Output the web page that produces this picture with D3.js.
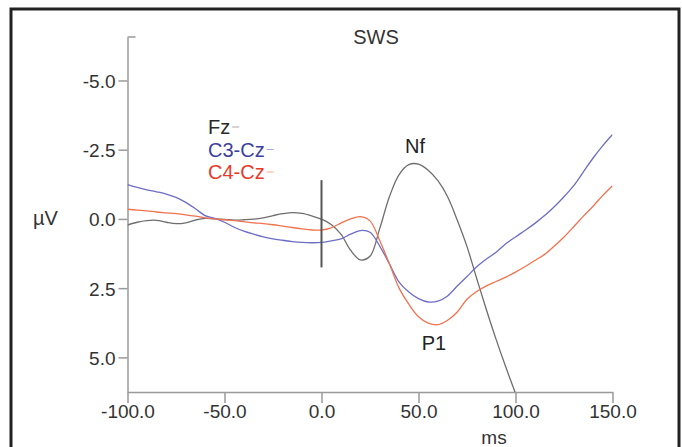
<!DOCTYPE html>
<html lang="en">
<head>
<meta charset="utf-8">
<script src="https://d3js.org/d3.v7.min.js"></script>
<style>
  body { margin: 0; background: #fff; }
  text { font-family: "Liberation Sans", Arial, sans-serif; }
</style>
</head>
<body>
<div id="chart"></div>
<script>
// time base (ms) shared by the three traces
const times = [-100,-95,-90,-85,-80,-75,-70,-65,-60,-55,-50,-45,-40,-35,-30,-25,-20,-15,-10,-5,
  0,5,10,15,20,25,30,35,40,45,50,55,60,65,70,75,80,85,90,95,100,105,110,115,120,125,130,135,140,145,150];

// µV values (negative up)
const fz = [0.22,0.12,0.06,0.05,0.12,0.17,0.14,0.04,-0.02,0.0,0.02,0.04,0.03,0.01,-0.04,-0.12,-0.19,-0.23,-0.2,-0.11,
  0.01,0.2,0.55,1.13,1.48,1.35,0.35,-0.8,-1.6,-1.96,-1.98,-1.76,-1.38,-0.8,0.05,1.0,2.15,3.28,4.35,5.35,6.3];
const c3cz = [-1.24,-1.14,-1.05,-0.98,-0.9,-0.78,-0.6,-0.37,-0.12,-0.02,0.12,0.3,0.44,0.55,0.65,0.72,0.77,0.82,0.85,0.86,
  0.85,0.79,0.72,0.55,0.42,0.48,0.98,1.62,2.28,2.64,2.88,3.0,2.97,2.78,2.42,2.08,1.73,1.45,1.2,0.9,0.65,0.41,0.16,-0.12,-0.44,-0.8,-1.2,-1.7,-2.2,-2.65,-3.05];
const c4cz = [-0.35,-0.32,-0.29,-0.25,-0.22,-0.19,-0.15,-0.1,-0.04,0.0,0.03,0.06,0.1,0.14,0.17,0.21,0.26,0.31,0.36,0.4,
  0.4,0.32,0.15,0.0,-0.08,0.07,0.78,1.62,2.5,3.08,3.53,3.76,3.82,3.66,3.36,2.9,2.62,2.42,2.26,2.1,1.92,1.72,1.5,1.28,0.98,0.65,0.28,-0.1,-0.46,-0.85,-1.2];

const seriesNames = ["Fz", "C3-Cz", "C4-Cz"];
const lineColors = ["#6e6e6e", "#6d6dc6", "#f0734f"];
const textColors = ["#2a2a2a", "#3c3f9e", "#e8392a"];

const xTicks = [-100, -50, 0, 50, 100, 150];
const yTicks = [-5, -2.5, 0, 2.5, 5];

const W = 682, H = 447;
const svg = d3.select("#chart").append("svg")
    .attr("width", W).attr("height", H);

// frame
svg.append("rect")
    .attr("x", 11).attr("y", 9).attr("width", 668).attr("height", 470)
    .attr("fill", "#fff").attr("stroke", "#222").attr("stroke-width", 3);

const x = d3.scaleLinear().domain([-100, 150]).range([127.5, 612.5]);
const y = d3.scaleLinear().domain([-6.57, 6.25]).range([37, 392]);
const fmt = d => d.toFixed(1);   // plain hyphen, not unicode minus

// x axis
const xAxis = svg.append("g")
    .attr("transform", `translate(0,${y(6.25)})`)
    .call(d3.axisBottom(x).tickValues(xTicks).tickFormat(fmt)
        .tickSize(11).tickSizeOuter(0).tickPadding(2));
// y axis
const yAxis = svg.append("g")
    .attr("transform", `translate(${x(-100)},0)`)
    .call(d3.axisLeft(y).tickValues(yTicks).tickFormat(fmt)
        .tickSize(9).tickSizeOuter(0).tickPadding(3));

[xAxis, yAxis].forEach(g => {
  g.selectAll("path, line").attr("stroke", "#9a9a9a").attr("stroke-width", 1.5);
  g.selectAll("text").attr("fill", "#333").style("font-size", "19px");
});
yAxis.selectAll("text").attr("dy", "0.36em");
// small inward stub at top of y axis
svg.append("line")
    .attr("x1", x(-100)).attr("x2", x(-100) + 8)
    .attr("y1", y(-6.57)).attr("y2", y(-6.57))
    .attr("stroke", "#9a9a9a").attr("stroke-width", 1.5);

// clip to plot area
svg.append("clipPath").attr("id", "plot")
  .append("rect").attr("x", x(-100)).attr("y", y(-6.57))
  .attr("width", x(150) - x(-100)).attr("height", y(6.25) - y(-6.57));

const line = d3.line()
    .x(d => x(d[0])).y(d => y(d[1]))
    .curve(d3.curveCatmullRom);

const allSeries = [fz, c3cz, c4cz];
const plot = svg.append("g").attr("clip-path", "url(#plot)");
allSeries.forEach((vals, i) => {
  plot.append("path")
      .datum(vals.map((v, k) => [times[k], v]))
      .attr("fill", "none")
      .attr("stroke", lineColors[i])
      .attr("stroke-width", 1.3)
      .attr("d", line);
});

// stimulus marker
svg.append("line")
    .attr("x1", x(0)).attr("x2", x(0))
    .attr("y1", y(-1.4)).attr("y2", y(1.75))
    .attr("stroke", "#555").attr("stroke-width", 2);

// title and axis labels
svg.append("text").attr("x", 376).attr("y", 44)
    .attr("text-anchor", "middle").attr("fill", "#333")
    .style("font-size", "20px").text("SWS");
svg.append("text").attr("x", 33).attr("y", 225)
    .attr("fill", "#333").style("font-size", "20px").text("µV");
svg.append("text").attr("x", 494).attr("y", 444)
    .attr("text-anchor", "middle").attr("fill", "#333")
    .style("font-size", "19px").text("ms");

// legend
seriesNames.forEach((name, i) => {
  const ty = 134 + i * 22.5;
  const t = svg.append("text").attr("x", 208).attr("y", ty)
      .attr("fill", textColors[i]).style("font-size", "20px").text(name);
  const w = t.node().getComputedTextLength();
  svg.append("line")
      .attr("x1", 208 + w + 2).attr("x2", 208 + w + 9)
      .attr("y1", ty - 7).attr("y2", ty - 7)
      .attr("stroke", lineColors[i]).attr("stroke-opacity", 0.6).attr("stroke-width", 1);
});

// peak labels
svg.append("text").attr("x", 415).attr("y", 153)
    .attr("text-anchor", "middle").attr("fill", "#222")
    .style("font-size", "20px").text("Nf");
svg.append("text").attr("x", 434).attr("y", 350)
    .attr("text-anchor", "middle").attr("fill", "#222")
    .style("font-size", "20px").text("P1");
</script>
</body>
</html>
